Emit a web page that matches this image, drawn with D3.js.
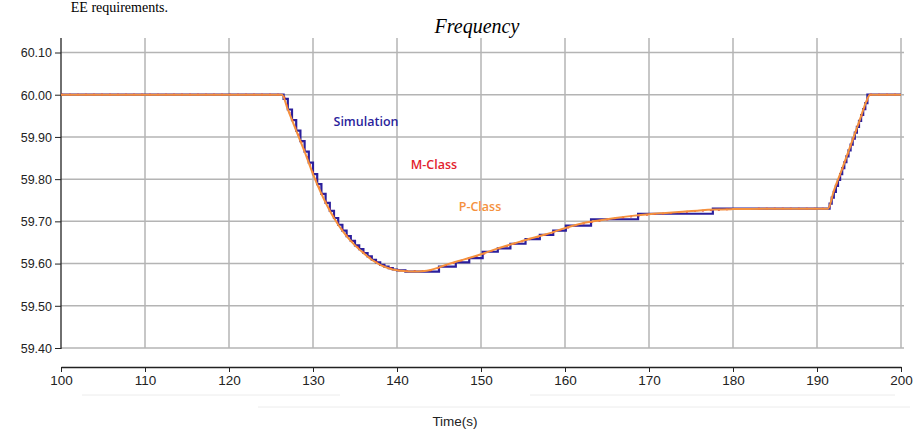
<!DOCTYPE html>
<html><head><meta charset="utf-8">
<script src="https://cdn.jsdelivr.net/npm/d3@7"></script>
<style>html,body{margin:0;padding:0;background:#fff;overflow:hidden}</style>
</head><body>
<svg id="c" width="914" height="430"></svg>
<script>
const yTicks = [59.40, 59.50, 59.60, 59.70, 59.80, 59.90, 60.00, 60.10];
const xTicks = [100, 110, 120, 130, 140, 150, 160, 170, 180, 190, 200];

const simTime = [100, 126.5, 127.0, 127.5, 128.0, 128.5, 129.0, 129.5, 130.0, 130.5, 131.0, 131.5, 132.0, 132.5, 133.0, 133.5, 134.0, 134.5,
  135.0, 135.5, 136.0, 136.5, 137.0, 137.5, 138.0, 138.5, 139.0, 139.5, 140.0, 141.0,
  145.0, 147.0, 148.6, 150.2, 152.0, 153.5, 155.3, 157.0, 158.6, 160.1, 163.1, 168.7, 177.6,
  191.5, 191.75, 192.0, 192.25, 192.5, 192.75, 193.0, 193.25, 193.5, 193.75, 194.0, 194.25, 194.5, 194.75, 195.0, 195.25, 195.5, 195.75, 196.0, 200];
const simValue = [60.000, 59.990, 59.965, 59.940, 59.915, 59.890, 59.865, 59.839, 59.812, 59.788, 59.765, 59.744, 59.725, 59.708, 59.692, 59.678, 59.665, 59.654,
  59.643, 59.634, 59.625, 59.617, 59.609, 59.603, 59.597, 59.593, 59.589, 59.586, 59.584, 59.581,
  59.593, 59.603, 59.613, 59.628, 59.636, 59.647, 59.658, 59.668, 59.678, 59.690, 59.705, 59.718, 59.730,
  59.742, 59.756, 59.770, 59.784, 59.798, 59.812, 59.826, 59.840, 59.854, 59.868, 59.882, 59.896, 59.910, 59.924, 59.938, 59.952, 59.966, 59.980, 60.000, 60.000];

const pTime = [100, 126.3, 127, 128, 129, 130, 131, 132, 133, 134, 135, 136, 137, 138, 139, 140, 141, 142, 143, 144, 145, 146,
  148, 150, 152, 154, 156, 158, 160, 162, 164, 166, 168, 170, 172, 174, 176, 178, 180, 185, 191.3,
  192, 193, 194, 195, 196, 196.3, 200];
const pValue = [60.000, 60.000, 59.965, 59.915, 59.865, 59.812, 59.765, 59.725, 59.692, 59.665, 59.643, 59.625, 59.609, 59.597, 59.589, 59.584, 59.582, 59.581, 59.582, 59.585, 59.591, 59.598,
  59.610, 59.622, 59.636, 59.648, 59.660, 59.671, 59.684, 59.695, 59.702, 59.708, 59.713, 59.717, 59.720, 59.723, 59.726, 59.728, 59.729, 59.730, 59.730,
  59.772, 59.825, 59.880, 59.935, 59.990, 60.000, 60.000];

const mTime = [100, 126.4, 127, 128, 129, 130, 131, 132, 133, 134, 135, 136, 137, 138, 139, 140, 141, 142, 143, 144, 145, 146,
  148, 150, 152, 154, 156, 158, 160, 162, 164, 166, 168, 170, 172, 174, 176, 178, 180, 185, 191.3,
  192, 193, 194, 195, 196, 196.3, 200];
const mValue = [60.000, 60.000, 59.968, 59.918, 59.868, 59.815, 59.768, 59.728, 59.694, 59.667, 59.645, 59.627, 59.611, 59.598, 59.590, 59.585, 59.583, 59.582, 59.582, 59.584, 59.590, 59.597,
  59.609, 59.621, 59.635, 59.647, 59.659, 59.670, 59.683, 59.694, 59.701, 59.707, 59.712, 59.716, 59.719, 59.722, 59.725, 59.727, 59.729, 59.730, 59.730,
  59.770, 59.822, 59.877, 59.932, 59.987, 60.000, 60.000];

const seriesNames = ["Simulation", "M-Class", "P-Class"];
const seriesColors = ["#2b1f9c", "#e2232e", "#f5913e"];

const svg = d3.select("#c");
const x = d3.scaleLinear().domain([100, 200]).range([61, 901]);
const y = d3.scaleLinear().domain([59.40, 60.10]).range([348, 52.5]);

// top text (continuation of page text) and title
svg.append("text").attr("x", 168).attr("y", 12).attr("text-anchor", "end")
  .style("font-family", "'Liberation Serif','Times New Roman',serif").style("font-size", "14px").text("EE requirements.");
svg.append("text").attr("x", 477).attr("y", 33).attr("text-anchor", "middle")
  .style("font-family", "'Liberation Serif','Times New Roman',serif").style("font-style", "italic").style("font-size", "20px").text("Frequency");

// grid
const grid = svg.append("g").attr("stroke", "#b4b4b4").attr("stroke-width", 1.5);
grid.selectAll("line.h").data(yTicks).join("line").attr("class", "h")
  .attr("x1", 61).attr("x2", 904).attr("y1", d => y(d)).attr("y2", d => y(d));
grid.selectAll("line.v").data(xTicks.slice(1)).join("line").attr("class", "v")
  .attr("x1", d => x(d)).attr("x2", d => x(d)).attr("y1", 38).attr("y2", 348);

// y axis
const yAxis = d3.axisLeft(y).tickValues(yTicks).tickFormat(d3.format(".2f")).tickSize(6).tickSizeOuter(0);
const yg = svg.append("g").attr("transform", "translate(61,0)").call(yAxis);
yg.select(".domain").attr("d", "M0,38V349").attr("stroke", "#222").attr("stroke-width", 1.3);
yg.selectAll(".tick line").attr("stroke", "#222");
yg.selectAll(".tick text").attr("x", -9).attr("dy", "0.35em")
  .style("font-family", "'Liberation Sans',Arial,sans-serif").style("font-size", "12.5px").attr("fill", "#222");

// x axis (separate)
const xAxis = d3.axisBottom(x).tickValues(xTicks).tickFormat(d3.format("d")).tickSize(5).tickSizeOuter(0);
const xg = svg.append("g").attr("transform", "translate(0,367)").call(xAxis);
xg.select(".domain").attr("stroke", "#222").attr("stroke-width", 1.5);
xg.selectAll(".tick line").attr("stroke", "#222");
xg.selectAll(".tick text").attr("y", 8)
  .style("font-family", "'Liberation Sans Narrow','Arial Narrow','Liberation Sans',sans-serif").style("font-size", "13.5px").attr("fill", "#222");
svg.append("text").attr("x", 455).attr("y", 426).attr("text-anchor", "middle")
  .style("font-family", "'Liberation Sans Narrow','Arial Narrow','Liberation Sans',sans-serif").style("font-size", "13.5px").attr("fill", "#222").text("Time(s)");

// faint scan artifacts below axis
const faint = svg.append("g").attr("stroke", "#ececec").attr("stroke-width", 1);
faint.append("line").attr("x1", 82).attr("x2", 340).attr("y1", 395).attr("y2", 395);
faint.append("line").attr("x1", 530).attr("x2", 895).attr("y1", 395).attr("y2", 395);
faint.append("line").attr("x1", 258).attr("x2", 910).attr("y1", 407).attr("y2", 407);

// series
const stepLine = d3.line().x(d => x(d[0])).y(d => y(d[1])).curve(d3.curveStepAfter);
const smoothLine = d3.line().x(d => x(d[0])).y(d => y(d[1])).curve(d3.curveMonotoneX);
svg.append("path").datum(simTime.map((t, i) => [t, simValue[i]]))
  .attr("d", stepLine).attr("fill", "none").attr("stroke", seriesColors[0]).attr("stroke-width", 2.2);
svg.append("path").datum(mTime.map((t, i) => [t, mValue[i]]))
  .attr("d", smoothLine).attr("fill", "none").attr("stroke", seriesColors[1]).attr("stroke-width", 1.8)
  .attr("stroke-dasharray", "2,6");
svg.append("path").datum(pTime.map((t, i) => [t, pValue[i]]))
  .attr("d", smoothLine).attr("fill", "none").attr("stroke", seriesColors[2]).attr("stroke-width", 2);

// in-plot labels
const labelPos = [[366, 126], [434, 169], [480, 211]];
seriesNames.forEach((n, i) => {
  svg.append("text").attr("x", labelPos[i][0]).attr("y", labelPos[i][1]).attr("text-anchor", "middle")
    .style("font-family", "'Open Sans','Liberation Sans',sans-serif").style("font-weight", "600").style("font-size", "12.5px")
    .attr("fill", seriesColors[i]).text(n);
});
</script>
</body></html>
